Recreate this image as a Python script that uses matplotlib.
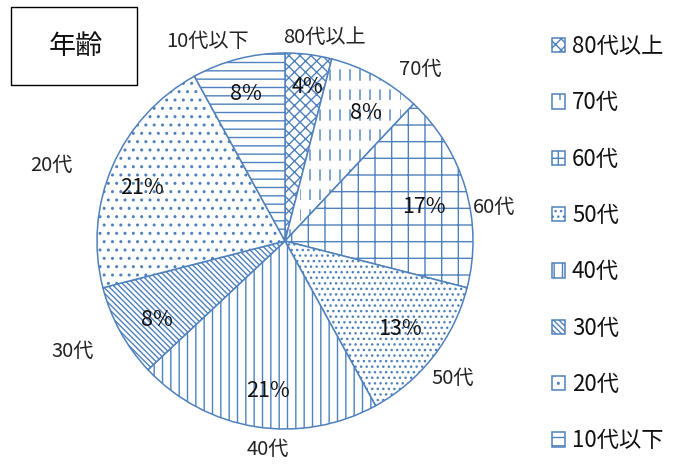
import warnings
warnings.filterwarnings("ignore")
import numpy as np
import matplotlib
matplotlib.use("Agg")
import matplotlib.pyplot as plt
from matplotlib import hatch as mhatch
from matplotlib.patches import Rectangle

# ---- custom dashed vertical hatch ('!') ----
class DashedVertical(mhatch.HatchPatternBase):
    ndash = 5
    def __init__(self, hatch, density):
        self.num_lines = int(hatch.count('!') * density * 1.8)
        self.num_vertices = self.num_lines * self.ndash * 2
    def set_vertices_and_codes(self, vertices, codes):
        xs = np.linspace(0, 1, self.num_lines, endpoint=False)
        k = 0
        for x in xs:
            for j in range(self.ndash):
                y0 = j / self.ndash
                vertices[k] = (x, y0)
                vertices[k + 1] = (x, y0 + 0.5 / self.ndash)
                codes[k] = 1
                codes[k + 1] = 2
                k += 2
mhatch._hatch_types.append(DashedVertical)

plt.rcParams['font.family'] = ['Noto Sans CJK JP', 'DejaVu Sans']
plt.rcParams['hatch.linewidth'] = 1.0

# ---- data ----
categories = ['80代以上', '70代', '60代', '50代', '40代', '30代', '20代', '10代以下']
values = [4, 8, 17, 13, 21, 8, 21, 8]
pct_labels = ['4%', '8%', '17%', '13%', '21%', '8%', '21%', '8%']
title = '年齢'

# ---- style ----
hatches = ['xxx', '!', '+', '...', '||', '\\' * 6, '..', '--']
blue = '#4F81BD'
label_pos = [(0.21, 1.08), (0.72, 0.91), (1.11, 0.18), (0.89, -0.73),
             (-0.09, -1.11), (-1.13, -0.59), (-1.24, 0.40), (-0.41, 1.06)]
pct_pos = [(0.12, 0.82), (0.43, 0.68), (0.74, 0.18), (0.61, -0.47),
           (-0.09, -0.80), (-0.68, -0.42), (-0.76, 0.28), (-0.21, 0.78)]

W, H = 678, 465
fig = plt.figure(figsize=(W / 100, H / 100), dpi=100)
cx, cy, R = 285, 241, 188
ax = fig.add_axes([(cx - R) / W, (H - cy - R) / H, 2 * R / W, 2 * R / H])
wedges, _ = ax.pie(values, startangle=90, counterclock=False, radius=1,
                   wedgeprops=dict(facecolor='white', edgecolor=blue, linewidth=1.1))
for w, h in zip(wedges, hatches):
    w.set_hatch(h)
for lab, p in zip(categories, label_pos):
    ax.text(p[0], p[1], lab, ha='center', va='center', fontsize=14.5, color='#222222')
for lab, p in zip(pct_labels, pct_pos):
    ax.text(p[0], p[1], lab, ha='center', va='center', fontsize=15.5, color='#111111')
ax.set_xlim(-1, 1)
ax.set_ylim(-1, 1)
ax.set_aspect('equal')
ax.axis('off')

leg = fig.legend(wedges, categories, loc='upper left',
                 bbox_to_anchor=(552 / W, 1 - 35 / H), frameon=False,
                 fontsize=16, handlelength=0.6, handleheight=0.6,
                 handletextpad=0.3, labelspacing=1.5, borderpad=0, borderaxespad=0)
for t in leg.get_texts():
    t.set_color('#111111')

# title box
fig.patches.append(Rectangle((11 / W, 1 - 85 / H), 126 / W, 78 / H,
                             transform=fig.transFigure, fill=False,
                             edgecolor='black', linewidth=1.0))
fig.text(76 / W, 1 - 47 / H, title, ha='center', va='center', fontsize=19.5, color='#111111')

fig.savefig('out.png', dpi=100)
